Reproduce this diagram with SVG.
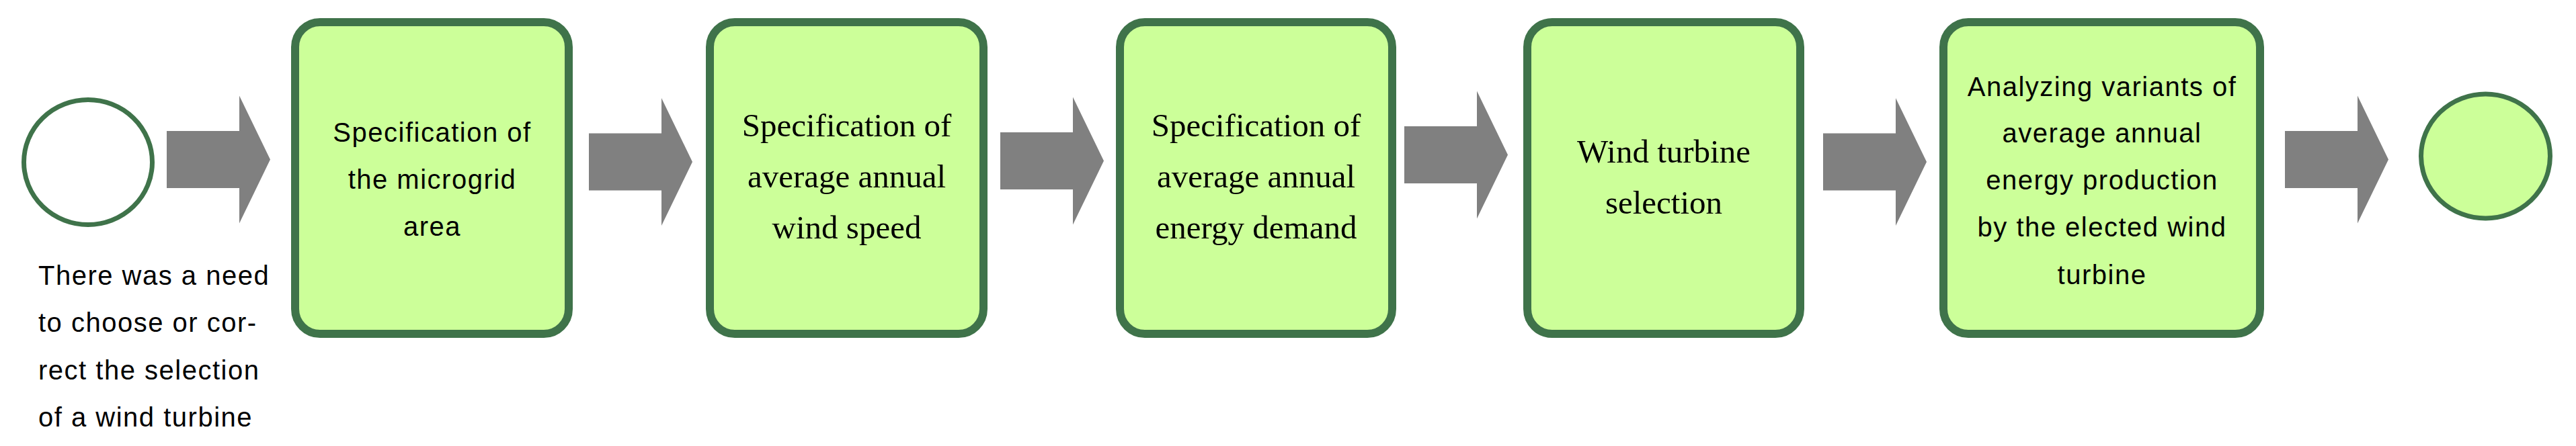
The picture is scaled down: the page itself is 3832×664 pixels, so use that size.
<svg xmlns="http://www.w3.org/2000/svg" width="3832" height="664" viewBox="0 0 3832 664">
  <style>
    .box { fill: #CCFF99; stroke: #3F734A; stroke-width: 12; }
    .ev { stroke: #3F734A; stroke-width: 7; }
    .arrow { fill: #808080; }
    .sans { font-family: "Liberation Sans", Arial, sans-serif; font-size: 40px; letter-spacing: 1.5px; fill: #000; }
    .serif { font-family: "Liberation Serif", "Times New Roman", serif; font-size: 49px; fill: #000; }
    .mid { text-anchor: middle; }
  </style>
  <defs>
    <path id="arr" d="M0,-42.5 H108 V-95 L154,0 L108,95 V42.5 H0 Z"/>
  </defs>
  <rect width="3832" height="664" fill="#FFFFFF"/>

  <g id="connectors" class="arrow">
    <use href="#arr" transform="translate(248,237.5)"/>
    <use href="#arr" transform="translate(876,241)"/>
    <use href="#arr" transform="translate(1488,239.5)"/>
    <use href="#arr" transform="translate(2089,230.5)"/>
    <use href="#arr" transform="translate(2712,241)"/>
    <use href="#arr" transform="translate(3399,237.5)"/>
  </g>

  <g id="start">
    <ellipse class="ev" cx="131" cy="241.5" rx="95.5" ry="93" fill="#FFFFFF"/>
    <text class="sans" x="57" y="424">There was a need</text>
    <text class="sans" x="57" y="494">to choose or cor-</text>
    <text class="sans" x="57" y="565">rect the selection</text>
    <text class="sans" x="57" y="635">of a wind turbine</text>
  </g>

  <g id="node1">
    <rect class="box" x="439" y="33" width="407" height="464" rx="37" ry="37"/>
    <text class="sans mid" x="643" y="211">Specification of</text>
    <text class="sans mid" x="643" y="281">the microgrid</text>
    <text class="sans mid" x="643" y="351">area</text>
  </g>

  <g id="node2">
    <rect class="box" x="1056" y="33" width="407" height="464" rx="37" ry="37"/>
    <text class="serif mid" x="1259.5" y="203">Specification of</text>
    <text class="serif mid" x="1259.5" y="279">average annual</text>
    <text class="serif mid" x="1259.5" y="355">wind speed</text>
  </g>

  <g id="node3">
    <rect class="box" x="1666" y="33" width="405" height="464" rx="37" ry="37"/>
    <text class="serif mid" x="1868.5" y="203">Specification of</text>
    <text class="serif mid" x="1868.5" y="279">average annual</text>
    <text class="serif mid" x="1868.5" y="355">energy demand</text>
  </g>

  <g id="node4">
    <rect class="box" x="2272" y="33" width="406" height="464" rx="37" ry="37"/>
    <text class="serif mid" x="2475" y="242">Wind turbine</text>
    <text class="serif mid" x="2475" y="318">selection</text>
  </g>

  <g id="node5">
    <rect class="box" x="2891" y="33" width="471" height="464" rx="37" ry="37"/>
    <text class="sans mid" x="3127" y="143">Analyzing variants of</text>
    <text class="sans mid" x="3127" y="212">average annual</text>
    <text class="sans mid" x="3127" y="282">energy production</text>
    <text class="sans mid" x="3127" y="352">by the elected wind</text>
    <text class="sans mid" x="3127" y="423">turbine</text>
  </g>

  <g id="end">
    <ellipse class="ev" cx="3697.5" cy="232.5" rx="96" ry="92.5" fill="#CCFF99"/>
  </g>
</svg>
